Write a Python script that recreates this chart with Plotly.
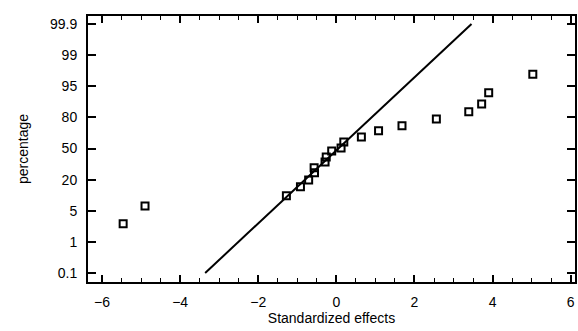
import numpy as np
import plotly.graph_objects as go
from statistics import NormalDist

# ---- data ----
effects = [-5.46, -4.90, -1.28, -0.92, -0.71, -0.56, -0.57, -0.29, -0.26, -0.12,
           0.12, 0.19, 0.64, 1.08, 1.68, 2.56, 3.39, 3.72, 3.90, 5.03]
percent = [2.7, 6.4, 10.4, 15.2, 19.8, 25.6, 30.1, 35.9, 41.0, 47.3,
           50.7, 57.0, 62.2, 68.4, 73.1, 78.8, 83.8, 88.2, 93.0, 97.2]
line_x = [-3.36, 3.46]
line_p = [0.1, 99.9]
tick_pct = [0.1, 1, 5, 20, 50, 80, 95, 99, 99.9]
tick_txt = ["0.1", "1", "5", "20", "50", "80", "95", "99", "99.9"]

nd = NormalDist()
tick_z = np.array([nd.inv_cdf(p / 100) for p in tick_pct])
tick_pos = np.arange(len(tick_pct))


def to_axis(pcts):
    z = np.array([nd.inv_cdf(p / 100) for p in pcts])
    return np.interp(z, tick_z, tick_pos)


fig = go.Figure()
fig.add_trace(go.Scatter(x=line_x, y=to_axis(line_p), mode="lines",
                         line=dict(color="black", width=2), hoverinfo="skip"))
fig.add_trace(go.Scatter(x=effects, y=to_axis(percent), mode="markers",
                         marker=dict(symbol="square-open", size=7, color="black",
                                     line=dict(width=2, color="black"))))

font = dict(family="Liberation Sans, Arial, sans-serif", size=14, color="black")
fig.update_layout(
    width=578, height=331,
    margin=dict(l=88, r=1, t=16, b=49),
    paper_bgcolor="white", plot_bgcolor="white",
    showlegend=False, font=font,
    xaxis=dict(range=[-6.36, 6.11], tickmode="array", tickvals=[-6, -4, -2, 0, 2, 4, 6],
               ticks="inside", ticklen=7, tickwidth=1.5, tickcolor="black",
               minor=dict(tickmode="array",
                          tickvals=list(np.arange(-6, 6.01, 0.5)),
                          ticks="inside", ticklen=4, tickwidth=1.2, tickcolor="black"),
               showline=True, linecolor="black", linewidth=2, mirror="ticks",
               showgrid=False, zeroline=False, ticklabelstandoff=6,
               title=dict(text="Standardized effects", standoff=3, font=font)),
    yaxis=dict(range=[-0.29, 8.26], tickmode="array", tickvals=list(tick_pos),
               ticktext=tick_txt, ticks="inside", ticklen=8, tickwidth=1.5,
               tickcolor="black", showline=True, linecolor="black", linewidth=2,
               mirror="ticks", showgrid=False, zeroline=False, ticklabelstandoff=6,
               title=dict(text="percentage", standoff=18, font=font)),
)

fig.write_html("out.html", config={"displayModeBar": False},
               post_script="document.body.style.margin='0';document.body.style.overflow='hidden';")
